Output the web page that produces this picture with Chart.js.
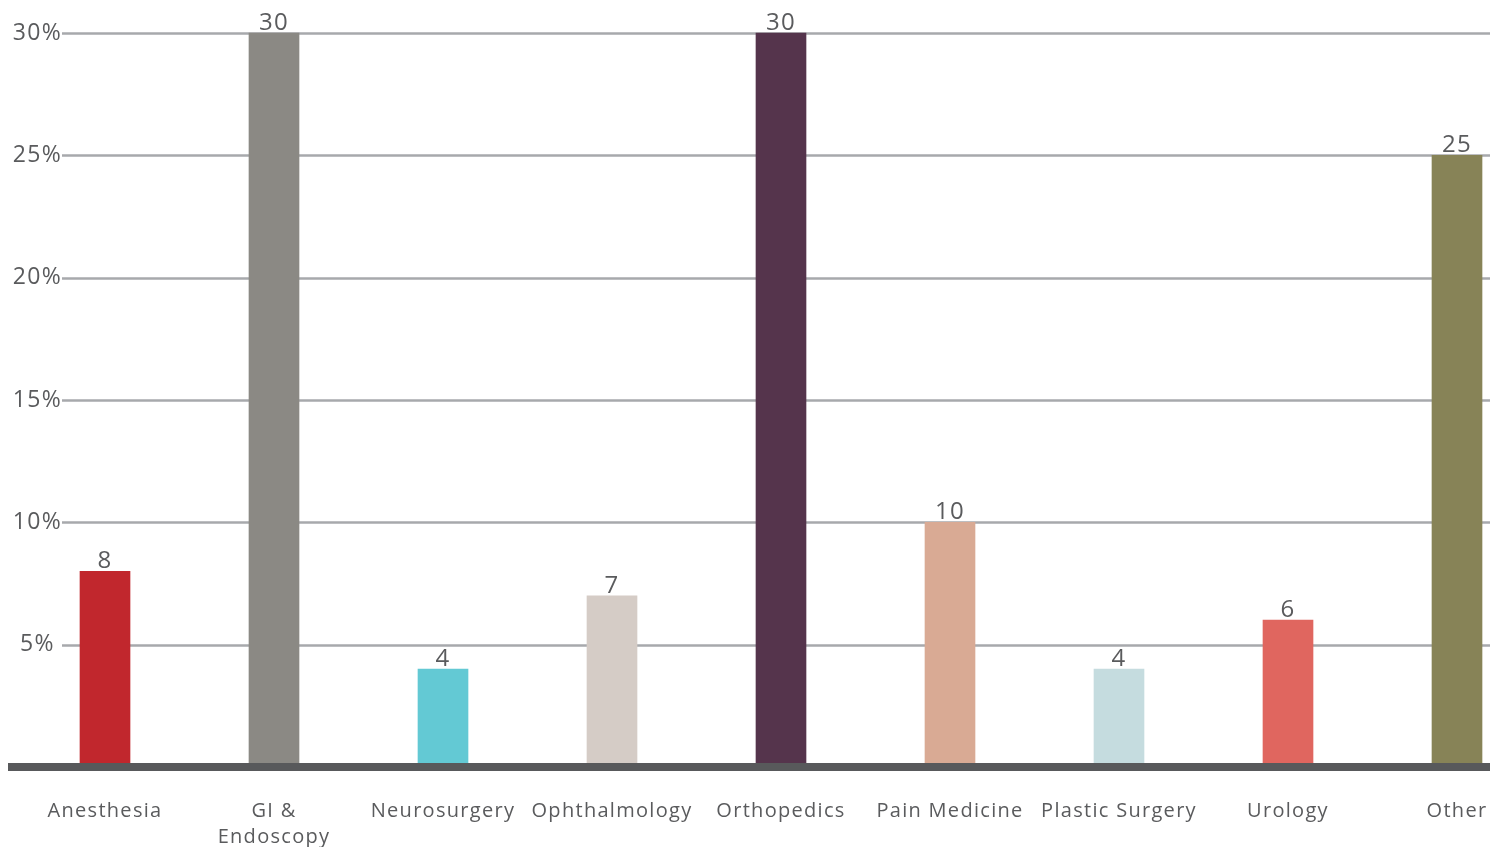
<!DOCTYPE html>
<html>
<head>
<meta charset="utf-8">
<script src="https://cdn.jsdelivr.net/npm/chart.js@4"></script>
<style>
  html, body { margin: 0; padding: 0; background: #fff; }
  #wrap { width: 1504px; height: 847px; position: relative; }
</style>
</head>
<body>
<div id="wrap"><canvas id="chart"></canvas></div>
<script>
const categories = ['Anesthesia', ['GI &', 'Endoscopy'], 'Neurosurgery', 'Ophthalmology', 'Orthopedics',
    'Pain Medicine', 'Plastic Surgery', 'Urology', 'Other'];
const shares = [8, 30, 4, 7, 30, 10, 4, 6, 25];
const barColors = ['#c1272d', '#8b8984', '#63c9d4', '#d5ccc6', '#55344c',
    '#d9aa94', '#c5dcdf', '#e0665f', '#878357'];
const yTicks = [5, 10, 15, 20, 25, 30];

const FONT = "'Open Sans', sans-serif";
const TEXT = '#5a5b5d';

// slightly tracked lettering for every text on the canvas
const trackingPlugin = {
    id: 'tracking',
    beforeInit(chart) { chart.ctx.letterSpacing = '1.3px'; },
    beforeDraw(chart) { chart.ctx.letterSpacing = '1.3px'; }
};

// horizontal rules run wider than the plot area, plus the heavy baseline
const rulesPlugin = {
    id: 'rules',
    beforeDatasetsDraw(chart) {
        const ctx = chart.ctx;
        const y = chart.scales.y;
        ctx.save();
        ctx.strokeStyle = '#a7a9ac';
        ctx.lineWidth = 2.5;
        yTicks.forEach(v => {
            const py = Math.round(y.getPixelForValue(v)) + 0.5;
            ctx.beginPath();
            ctx.moveTo(62, py);
            ctx.lineTo(1490, py);
            ctx.stroke();
        });
        ctx.restore();
    },
    afterDatasetsDraw(chart) {
        const ctx = chart.ctx;
        const y = chart.scales.y;
        const py = y.getPixelForValue(0);
        ctx.save();
        ctx.fillStyle = '#58595b';
        ctx.fillRect(8, py - 4, 1482, 8);

        // value above each bar
        const meta = chart.getDatasetMeta(0);
        ctx.font = '400 24px ' + FONT;
        ctx.fillStyle = TEXT;
        ctx.textAlign = 'center';
        ctx.textBaseline = 'bottom';
        meta.data.forEach((bar, i) => {
            ctx.fillText(String(shares[i]), bar.x, bar.y + 2);
        });
        ctx.restore();
    }
};

new Chart(document.getElementById('chart'), {
    type: 'bar',
    data: {
        labels: categories,
        datasets: [{
            data: shares,
            backgroundColor: barColors,
            barThickness: 50,
            clip: false
        }]
    },
    options: {
        responsive: true,
        maintainAspectRatio: false,
        animation: false,
        layout: { padding: { top: 33, right: 47, bottom: 0, left: 0 } },
        plugins: { legend: { display: false }, tooltip: { enabled: false } },
        scales: {
            x: {
                offset: false,
                grid: { display: false, drawTicks: false },
                border: { display: false },
                ticks: {
                    color: TEXT,
                    font: { family: FONT, size: 20, weight: '400', lineHeight: 1.3 },
                    padding: 31,
                    maxRotation: 0,
                    autoSkip: false
                },
                afterFit(scale) {
                    scale.height = 80;
                    scale.paddingLeft = 0;
                    scale.paddingRight = 0;
                }
            },
            y: {
                min: 0,
                max: 30,
                grid: { display: false, drawTicks: false },
                border: { display: false },
                afterBuildTicks(scale) { scale.ticks = yTicks.map(v => ({ value: v })); },
                ticks: {
                    color: TEXT,
                    font: { family: FONT, size: 23, weight: '400' },
                    crossAlign: 'center',
                    padding: 45,
                    callback: v => v + '%'
                },
                afterFit(scale) {
                    scale.width = 105;
                    scale.paddingTop = 0;
                    scale.paddingBottom = 0;
                }
            }
        }
    },
    plugins: [trackingPlugin, rulesPlugin]
});
</script>
</body>
</html>
